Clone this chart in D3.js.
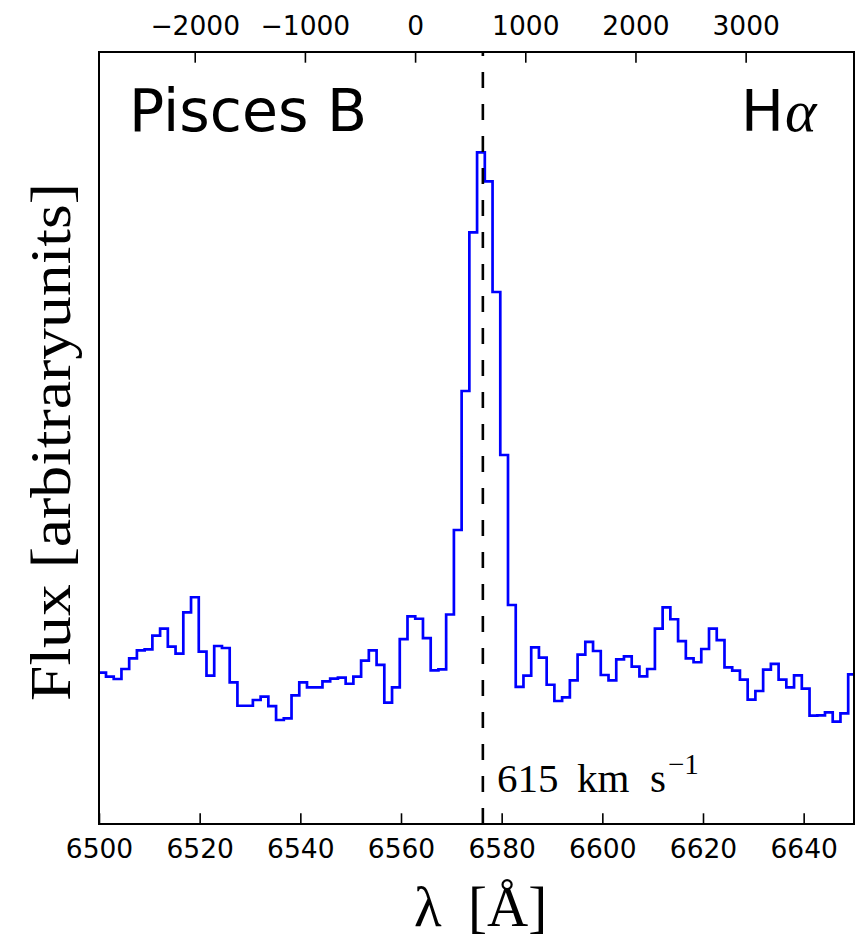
<!DOCTYPE html>
<html>
<head>
<meta charset="utf-8">
<script src="https://cdn.jsdelivr.net/npm/d3@7/dist/d3.min.js"></script>
<style>
  html, body { margin: 0; padding: 0; background: #ffffff; }
  svg { display: block; }
</style>
</head>
<body>
<svg id="chart" width="859" height="939"></svg>
<script>
// ---------------- data ----------------
const wavelengths = [
  6500.62, 6502.16, 6503.69, 6505.23, 6506.76, 6508.30, 6509.84, 6511.37, 6512.91, 6514.44,
  6515.98, 6517.52, 6519.05, 6520.59, 6522.12, 6523.66, 6525.20, 6526.73, 6528.27, 6529.80,
  6531.34, 6532.88, 6534.41, 6535.95, 6537.48, 6539.02, 6540.56, 6542.09, 6543.63, 6545.16,
  6546.70, 6548.24, 6549.77, 6551.31, 6552.84, 6554.38, 6555.92, 6557.45, 6558.99, 6560.52,
  6562.06, 6563.60, 6565.13, 6566.67, 6568.20, 6569.74, 6571.28, 6572.81, 6574.35, 6575.88,
  6577.42, 6578.96, 6580.49, 6582.03, 6583.56, 6585.10, 6586.64, 6588.17, 6589.71, 6591.24,
  6592.78, 6594.32, 6595.85, 6597.39, 6598.92, 6600.46, 6602.00, 6603.53, 6605.07, 6606.60,
  6608.14, 6609.68, 6611.21, 6612.75, 6614.28, 6615.82, 6617.36, 6618.89, 6620.43, 6621.96,
  6623.50, 6625.04, 6626.57, 6628.11, 6629.64, 6631.18, 6632.72, 6634.25, 6635.79, 6637.32,
  6638.86, 6640.40, 6641.93, 6643.47, 6645.00, 6646.54, 6648.08, 6649.61
];
const flux = [
  19.60, 19.08, 18.78, 20.08, 21.46, 22.50, 22.63, 24.39, 25.30, 22.97,
  22.06, 27.42, 29.37, 22.32, 19.21, 23.06, 22.80, 18.35, 15.32, 15.32,
  16.06, 16.49, 15.28, 13.47, 13.69, 16.67, 18.35, 17.71, 17.71, 18.48,
  18.82, 18.95, 18.17, 19.08, 21.15, 22.50, 20.60, 15.71, 17.71, 23.96,
  26.90, 26.59, 24.09, 19.91, 20.04, 27.14, 38.08, 56.09, 76.64, 87.01,
  83.25, 68.91, 47.80, 28.37, 17.75, 19.21, 22.89, 21.54, 18.04, 15.93,
  16.41, 18.61, 21.93, 23.58, 22.41, 19.30, 18.61, 21.33, 21.72, 20.38,
  19.13, 20.08, 25.30, 28.07, 26.52, 23.70, 21.46, 20.95, 22.67, 25.30,
  23.83, 20.30, 19.86, 18.69, 16.10, 17.23, 19.99, 20.73, 18.69, 17.71,
  19.26, 17.53, 14.03, 14.08, 14.47, 13.25, 14.34, 19.39
];
const wavelengthTicks = [6500, 6520, 6540, 6560, 6580, 6600, 6620, 6640];
const velocityTicks = [-2000, -1000, 0, 1000, 2000, 3000];
const wavelengthDomain = [6500, 6650];
const fluxDomain = [0, 100];
const restWavelength = 6562.8;   // H-alpha
const systemicVelocity = 615;    // km/s
const speedOfLight = 299792.458; // km/s

// ---------------- layout ----------------
const svg = d3.select("#chart");
const plot = { left: 99, right: 854, top: 52, bottom: 824 };
const tickLen = 10.7;

const x = d3.scaleLinear().domain(wavelengthDomain).range([plot.left, plot.right]);
const y = d3.scaleLinear().domain(fluxDomain).range([plot.bottom, plot.top]);
const toVel = w => speedOfLight * (w / restWavelength - 1);
const xv = d3.scaleLinear().domain(wavelengthDomain.map(toVel)).range([plot.left, plot.right]);

svg.append("rect").attr("width", 859).attr("height", 939).attr("fill", "#fff");

svg.append("clipPath").attr("id", "clip")
  .append("rect")
  .attr("x", plot.left).attr("y", plot.top)
  .attr("width", plot.right - plot.left).attr("height", plot.bottom - plot.top);

// spectrum (steps-mid), extended to the plot edges
const pts = wavelengths.map((w, i) => ({ w, f: flux[i] }));
const stepPts = [{ w: wavelengthDomain[0], f: flux[0] }, ...pts,
                 { w: wavelengthDomain[1], f: flux[flux.length - 1] }];
const line = d3.line().x(d => x(d.w)).y(d => y(d.f)).curve(d3.curveStep);
svg.append("path")
  .attr("clip-path", "url(#clip)")
  .attr("d", line(stepPts))
  .attr("fill", "none")
  .attr("stroke", "#0000ff")
  .attr("stroke-width", 2.7)
  .attr("stroke-linejoin", "miter");

// systemic velocity marker
const lamSys = restWavelength * (1 + systemicVelocity / speedOfLight);
svg.append("line")
  .attr("x1", x(lamSys)).attr("x2", x(lamSys))
  .attr("y1", plot.bottom).attr("y2", plot.top)
  .attr("stroke", "#000").attr("stroke-width", 2.6)
  .attr("stroke-dasharray", "16,16");

// axes
const tickFont = "'DejaVu Sans', sans-serif";
const bottomAxis = d3.axisBottom(x).tickValues(wavelengthTicks)
  .tickSizeInner(-tickLen).tickSizeOuter(0).tickPadding(15)
  .tickFormat(d3.format("d"));
const gB = svg.append("g").attr("transform", `translate(0,${plot.bottom})`).call(bottomAxis);

const topAxis = d3.axisTop(xv).tickValues(velocityTicks)
  .tickSizeInner(-tickLen).tickSizeOuter(0).tickPadding(17)
  .tickFormat(d => d < 0 ? "\u2212" + Math.abs(d) : String(d));
const gT = svg.append("g").attr("transform", `translate(0,${plot.top})`).call(topAxis);

[gB, gT].forEach(g => {
  g.select(".domain").remove();
  g.selectAll(".tick line").attr("stroke", "#000").attr("stroke-width", 1.6);
  g.selectAll(".tick text").attr("font-family", tickFont).attr("font-size", 26.5).attr("fill", "#000");
});

// frame
svg.append("rect")
  .attr("x", plot.left).attr("y", plot.top)
  .attr("width", plot.right - plot.left).attr("height", plot.bottom - plot.top)
  .attr("fill", "none").attr("stroke", "#000").attr("stroke-width", 2);

// panel labels
svg.append("text")
  .attr("x", 129).attr("y", 131)
  .attr("font-family", tickFont).attr("font-size", 58.5).attr("fill", "#000")
  .text("Pisces B");

const ha = svg.append("text").attr("y", 131).attr("fill", "#000");
ha.append("tspan").attr("x", 741).attr("font-family", tickFont).attr("font-size", 57).text("H");
ha.append("tspan").attr("x", 785).attr("font-family", "'Liberation Serif', serif")
  .attr("font-style", "italic").attr("font-size", 60).text("α");

// velocity annotation
const ann = svg.append("text").attr("y", 792).attr("fill", "#000")
  .attr("font-family", "'Liberation Serif', serif").attr("font-size", 41);
ann.append("tspan").attr("x", 497).text("615");
ann.append("tspan").attr("x", 577).text("km");
ann.append("tspan").attr("x", 650).text("s");
ann.append("tspan").attr("x", 668).attr("dy", -18).attr("font-size", 29).text("\u22121");

// axis titles
const xl = svg.append("text").attr("y", 926).attr("fill", "#000")
  .attr("font-family", "'Liberation Serif', serif").attr("font-size", 57);
xl.append("tspan").attr("x", 414).text("λ");
xl.append("tspan").attr("x", 468).text("[Å]");

svg.append("text")
  .attr("transform", `translate(70,${(plot.top + plot.bottom) / 2 + 4}) rotate(-90)`)
  .attr("text-anchor", "middle")
  .attr("font-family", "'Liberation Serif', serif").attr("font-size", 57)
  .attr("fill", "#000")
  .attr("textLength", 518).attr("lengthAdjust", "spacingAndGlyphs")
  .text("Flux [arbitraryunits]");
</script>
</body>
</html>
